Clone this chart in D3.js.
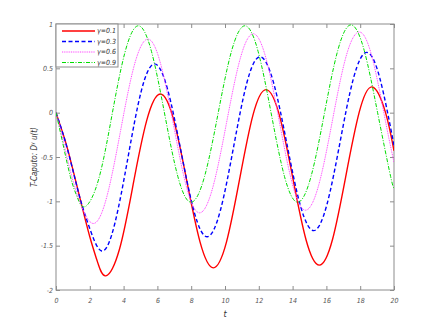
<!DOCTYPE html>
<html>
<head>
<meta charset="utf-8">
<script src="https://cdn.jsdelivr.net/npm/d3@7"></script>
<style>
  body { margin: 0; background: #fff; }
  svg text { font-family: "Liberation Sans Narrow", "Arial Narrow", "DejaVu Sans Condensed", sans-serif; font-style: italic; }
</style>
</head>
<body>
<svg id="chart" width="436" height="327"></svg>
<script>
// values: [t, u]
var series01 = [[0,0],[0.35,-0.2],[0.7,-0.42],[1.4,-0.95],[2.0,-1.40],[2.45,-1.68],[2.95,-1.84],
    [3.755,-1.54],[4.56,-0.815],[5.365,-0.09],[6.17,0.21],[6.955,-0.076],[7.74,-0.77],[8.525,-1.46],
    [9.31,-1.75],[10.09,-1.457],[10.87,-0.745],[11.65,-0.03],[12.43,0.26],[13.22,-0.03],[14.005,-0.73],
    [14.79,-1.43],[15.58,-1.72],[16.365,-1.427],[17.15,-0.715],[17.935,0.0],[18.72,0.29],[19.5,0.0],[20,-0.43]];
var series03 = [[0,0],[0.35,-0.2],[0.8,-0.5],[1.4,-0.95],[1.95,-1.28],[2.7,-1.56],
    [3.48,-1.25],[4.26,-0.505],[5.04,0.24],[5.82,0.55],[6.6,0.265],[7.385,-0.425],[8.17,-1.115],
    [8.95,-1.40],[9.73,-1.10],[10.51,-0.385],[11.29,0.334],[12.07,0.63],[12.865,0.344],[13.66,-0.35],
    [14.455,-1.044],[15.25,-1.33],[16.03,-1.037],[16.815,-0.325],[17.6,0.387],[18.38,0.68],[19.16,0.39],[20,-0.37]];
var series06 = [[0,0],[0.35,-0.25],[0.8,-0.62],[1.4,-1.0],[2.2,-1.25],
    [3.01,-0.946],[3.815,-0.21],[4.62,0.526],[5.43,0.83],[6.2,0.544],[6.965,-0.15],[7.73,-0.844],
    [8.5,-1.13],[9.29,-0.835],[10.085,-0.12],[10.88,0.595],[11.67,0.89],[12.445,0.599],[13.22,-0.105],
    [13.995,-0.81],[14.77,-1.10],[15.56,-0.806],[16.35,-0.095],[17.14,0.617],[17.93,0.91],[18.71,0.62],
    [19.49,-0.09],[20,-0.56]];
var series09 = [[0,0],[0.35,-0.3],[0.85,-0.72],[1.25,-0.95],[1.72,-1.06],
    [2.51,-0.76],[3.3,-0.04],[4.08,0.68],[4.87,0.98],[5.65,0.69],[6.43,-0.015],[7.21,-0.72],
    [7.99,-1.01],[8.79,-0.72],[9.585,-0.015],[10.38,0.69],[11.18,0.98],[11.96,0.69],[12.74,-0.015],
    [13.52,-0.72],[14.3,-1.01],[15.09,-0.72],[15.88,-0.01],[16.67,0.70],[17.46,0.99],[18.24,0.70],
    [19.03,0.0],[19.8,-0.72],[20,-0.84]];

var legendLabels = ["\u03b3=0.1", "\u03b3=0.3", "\u03b3=0.6", "\u03b3=0.9"];
var xTicks = [0, 2, 4, 6, 8, 10, 12, 14, 16, 18, 20];
var yTicks = [1, 0.5, 0, -0.5, -1, -1.5, -2];

var svg = d3.select("#chart"),
    margin = {top: 24, right: 42, bottom: 37, left: 56},
    width = +svg.attr("width") - margin.left - margin.right,
    height = +svg.attr("height") - margin.top - margin.bottom;

var g = svg.append("g").attr("transform", "translate(" + margin.left + "," + margin.top + ")");

var x = d3.scaleLinear().domain([0, 20]).range([0, width]);
var y = d3.scaleLinear().domain([-2, 1]).range([height, 0]);

var axisColor = "#8c8c8c";

// box + inward ticks on all four sides
g.append("rect")
    .attr("width", width).attr("height", height)
    .attr("fill", "#fff").attr("stroke", axisColor).attr("stroke-width", 1);

function styleAxis(sel) {
    sel.select(".domain").remove();
    sel.selectAll(".tick line").attr("stroke", axisColor);
    sel.selectAll(".tick text").attr("fill", "#555").attr("font-size", 7);
}

g.append("g")
    .attr("transform", "translate(0," + height + ")")
    .call(d3.axisBottom(x).tickValues(xTicks).tickSizeInner(-4).tickSizeOuter(0).tickPadding(8).tickFormat(d3.format("d")))
    .call(styleAxis);
g.append("g")
    .call(d3.axisTop(x).tickValues(xTicks).tickSizeInner(-4).tickSizeOuter(0).tickFormat(""))
    .call(styleAxis);
g.append("g")
    .call(d3.axisLeft(y).tickValues(yTicks).tickSizeInner(-4).tickSizeOuter(0).tickPadding(3).tickFormat(function(d) { return d; }))
    .call(styleAxis);
g.append("g")
    .attr("transform", "translate(" + width + ",0)")
    .call(d3.axisRight(y).tickValues(yTicks).tickSizeInner(-4).tickSizeOuter(0).tickFormat(""))
    .call(styleAxis);

var line = d3.line()
    .x(function(d) { return x(d[0]); })
    .y(function(d) { return y(d[1]); })
    .curve(d3.curveNatural);

var styles = [
    {data: series01, color: "#ff0000", width: 1.4, dash: null},
    {data: series03, color: "#0000ff", width: 1.4, dash: "4,2.5"},
    {data: series06, color: "#ff44ff", width: 1, dash: "1,0.8"},
    {data: series09, color: "#00dd00", width: 1, dash: "4,1.5,1,1.5"}
];

g.append("defs").append("clipPath").attr("id", "clip")
    .append("rect").attr("width", width).attr("height", height);

var plot = g.append("g").attr("clip-path", "url(#clip)");
styles.forEach(function(s) {
    plot.append("path")
        .attr("d", line(s.data))
        .attr("fill", "none")
        .attr("stroke", s.color)
        .attr("stroke-width", s.width)
        .attr("stroke-dasharray", s.dash);
});

// legend
var legend = g.append("g");
legend.append("rect")
    .attr("x", 0).attr("y", 0).attr("width", 62).attr("height", 43)
    .attr("fill", "#fff").attr("stroke", axisColor).attr("stroke-width", 1);

var items = legend.selectAll("g.item")
    .data(styles)
    .enter().append("g")
    .attr("class", "item")
    .attr("transform", function(d, i) { return "translate(0," + (7 + i * 10.5) + ")"; });

items.append("line")
    .attr("x1", 6).attr("x2", 39)
    .attr("stroke", function(d) { return d.color; })
    .attr("stroke-width", function(d) { return d.width; })
    .attr("stroke-dasharray", function(d) { return d.dash; });

items.append("text")
    .attr("x", 41).attr("dy", "0.32em")
    .attr("font-size", 7)
    .attr("fill", "#333")
    .text(function(d, i) { return legendLabels[i]; });

// axis labels
g.append("text")
    .attr("x", width / 2).attr("y", height + 27)
    .attr("text-anchor", "middle")
    .attr("font-size", 9)
    .attr("fill", "#333")
    .text("t");

var ylab = g.append("text")
    .attr("transform", "translate(-19," + (height / 2) + ") rotate(-90)")
    .attr("text-anchor", "middle")
    .attr("font-size", 8)
    .attr("fill", "#333");
ylab.append("tspan").text("T-Caputo:  D");
ylab.append("tspan").attr("font-size", 5).attr("dy", -3).text("\u03b3");
ylab.append("tspan").attr("dy", 3).text(" u(t)");
</script>
</body>
</html>
